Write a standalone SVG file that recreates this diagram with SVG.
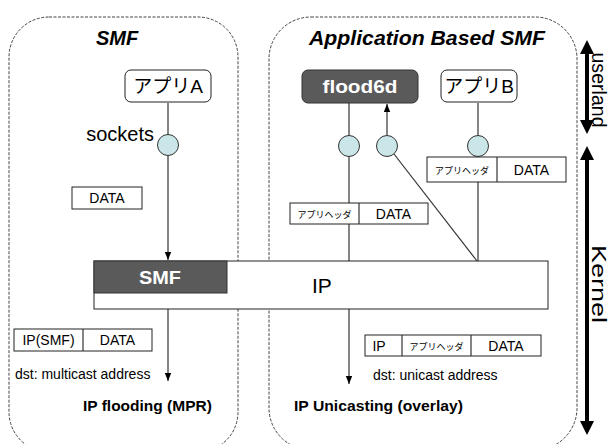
<svg xmlns="http://www.w3.org/2000/svg" width="610" height="444" viewBox="0 0 610 444">
<defs>
<style>
.zone{fill:none;stroke:#444;stroke-width:1;stroke-dasharray:3 1.5}
.app{fill:#fff;stroke:#222;stroke-width:1}
.dark{fill:#5a5a5a;stroke:#333;stroke-width:1}
.box{fill:#fff;stroke:#222;stroke-width:1}
.sock{fill:#cae6e8;stroke:#333;stroke-width:1}
.ln{fill:none;stroke:#333;stroke-width:1.2}
.t{font-family:"Liberation Sans","Noto Sans CJK JP",Arial,sans-serif;fill:#000}
.b{font-weight:bold}
.i{font-style:italic}
.w{fill:#fff}
.m{text-anchor:middle}
.thick{stroke:#000;stroke-width:4;fill:none}
</style>
<marker id="ah" markerUnits="userSpaceOnUse" markerWidth="8" markerHeight="8" viewBox="0 0 8 8" refX="8" refY="4" orient="auto"><path d="M0,0.8 L8,4 L0,7.2 Z" fill="#000"/></marker>
</defs>
<rect width="610" height="444" fill="#fff"/>

<g id="zone-smf">
<rect class="zone" x="9" y="17" width="229" height="435" rx="40"/>
<text class="t b i m" x="117" y="45" font-size="20">SMF</text>
</g>
<g id="zone-app">
<rect class="zone" x="269" y="17" width="308" height="433" rx="42"/>
<text class="t b i" x="309" y="45" font-size="20" textLength="236" lengthAdjust="spacingAndGlyphs">Application Based SMF</text>
</g>

<g id="connectors">
<line class="ln" x1="168" y1="103" x2="168" y2="260" marker-end="url(#ah)"/>
<line class="ln" x1="168" y1="309" x2="168" y2="381" marker-end="url(#ah)"/>
<line class="ln" x1="349" y1="103" x2="349" y2="384" marker-end="url(#ah)"/>
<line class="ln" x1="387" y1="135" x2="387" y2="104" marker-end="url(#ah)"/>
<line class="ln" x1="394" y1="154" x2="477" y2="261"/>
<line class="ln" x1="478" y1="103" x2="478" y2="261"/>
</g>

<g id="ip-layer">
<rect class="box" x="94" y="261" width="454" height="48"/>
<text class="t" x="312" y="293" font-size="21">IP</text>
</g>
<g id="smf-module">
<rect class="dark" x="94" y="261" width="133" height="32"/>
<text class="t b w m" x="160" y="284" font-size="19" textLength="42" lengthAdjust="spacingAndGlyphs">SMF</text>
</g>

<g id="app-a">
<rect class="app" x="125" y="70" width="86" height="32" rx="6"/>
<text class="t m" x="168" y="93" font-size="19">アプリA</text>
</g>
<g id="socket-a">
<circle class="sock" cx="168" cy="145" r="10.5"/>
<text class="t" x="154" y="141" font-size="20" text-anchor="end">sockets</text>
</g>
<g id="data-a">
<rect class="box" x="72" y="187" width="70" height="22"/>
<text class="t m" x="107" y="203" font-size="14">DATA</text>
</g>

<g id="flood6d">
<rect class="dark" x="302" y="70" width="116" height="33" rx="6"/>
<text class="t b w m" x="360" y="93" font-size="18" textLength="75" lengthAdjust="spacingAndGlyphs">flood6d</text>
</g>
<g id="socket-f1"><circle class="sock" cx="349" cy="146" r="10.5"/></g>
<g id="socket-f2"><circle class="sock" cx="387" cy="146" r="10.5"/></g>

<g id="app-b">
<rect class="app" x="441" y="70" width="76" height="32" rx="6"/>
<text class="t m" x="479" y="93" font-size="19">アプリB</text>
</g>
<g id="socket-b"><circle class="sock" cx="478" cy="146" r="10.5"/></g>

<g id="hdr-b">
<rect class="box" x="427" y="157" width="139" height="25"/>
<line class="ln" x1="497" y1="157" x2="497" y2="182"/>
<text class="t m" x="462" y="174" font-size="9">アプリヘッダ</text>
<text class="t m" x="531.5" y="175" font-size="14">DATA</text>
</g>
<g id="hdr-f">
<rect class="box" x="290" y="203" width="138" height="21"/>
<line class="ln" x1="359" y1="203" x2="359" y2="224"/>
<text class="t m" x="324.5" y="218" font-size="9">アプリヘッダ</text>
<text class="t m" x="393.5" y="219" font-size="14">DATA</text>
</g>

<g id="pkt-smf">
<rect class="box" x="14" y="329" width="138" height="22"/>
<line class="ln" x1="83" y1="329" x2="83" y2="351"/>
<text class="t m" x="48.5" y="345" font-size="14">IP(SMF)</text>
<text class="t m" x="117.5" y="345" font-size="14">DATA</text>
<text class="t" x="15" y="379" font-size="14">dst: multicast address</text>
<text class="t b" x="83" y="411" font-size="15.5">IP flooding (MPR)</text>
</g>
<g id="pkt-uni">
<rect class="box" x="365" y="335" width="176" height="21"/>
<line class="ln" x1="402" y1="335" x2="402" y2="356"/>
<line class="ln" x1="471" y1="335" x2="471" y2="356"/>
<text class="t m" x="379" y="351" font-size="14">IP</text>
<text class="t m" x="436.5" y="350" font-size="9">アプリヘッダ</text>
<text class="t m" x="506" y="351" font-size="14">DATA</text>
<text class="t" x="373" y="380" font-size="14">dst: unicast address</text>
<text class="t b" x="294" y="411" font-size="15.5" textLength="169" lengthAdjust="spacingAndGlyphs">IP Unicasting (overlay)</text>
</g>

<g id="userland">
<line class="thick" x1="587" y1="52" x2="587" y2="122"/>
<path d="M587,40 L580,54 L594,54 Z M587,134 L580,120 L594,120 Z" fill="#000"/>
<text class="t m" transform="translate(592,90) rotate(90)" font-size="20" textLength="75" lengthAdjust="spacingAndGlyphs">userland</text>
</g>
<g id="kernel">
<line class="thick" x1="587" y1="158" x2="587" y2="423"/>
<path d="M587,146 L580,160 L594,160 Z M587,435 L580,421 L594,421 Z" fill="#000"/>
<text class="t m" transform="translate(592,284) rotate(90)" font-size="20" textLength="78" lengthAdjust="spacingAndGlyphs">Kernel</text>
</g>
</svg>
